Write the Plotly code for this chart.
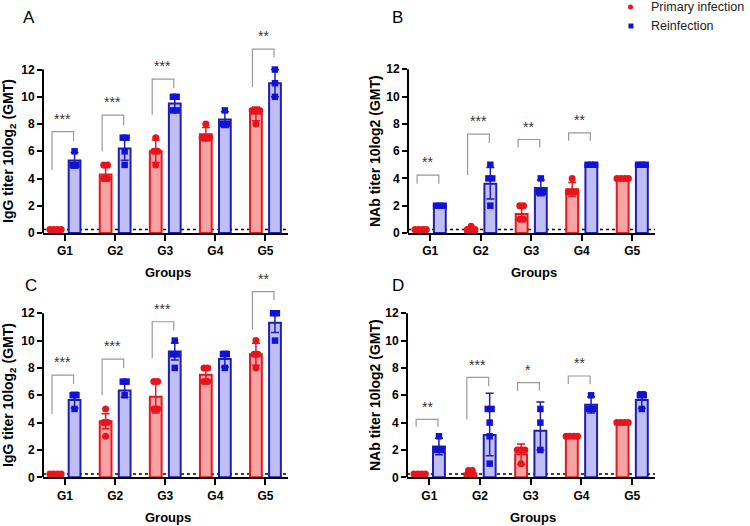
import plotly.graph_objects as go

groups = ["G1", "G2", "G3", "G4", "G5"]
LOD = 0.25

# ---------- Panel A : IgG (primary vs reinfection) ----------
A_pri_mean = [0.25, 4.3, 6.0, 7.25, 8.75]
A_pri_hi = [0.0, 0.5, 0.82, 0.5, 0.5]
A_pri_lo = [0.0, 0.5, 0.82, 0.5, 0.5]
A_pri_pts = [[0.25, 0.25, 0.25, 0.25], [5, 5, 4, 4], [7, 6, 6, 5], [8, 7, 7, 7], [9, 9, 9, 8]]
A_re_mean = [5.33, 6.2, 9.5, 8.33, 11.0]
A_re_hi = [0.58, 0.85, 0.58, 0.58, 1.0]
A_re_lo = [0.58, 0.85, 0.58, 0.58, 1.0]
A_re_pts = [[6, 5, 5], [7, 7, 6, 5], [10, 10, 9, 9], [9, 8, 8], [12, 11, 10]]
A_sig = ["***", "***", "***", "", "**"]
A_brk_left = [4.65, 6.0, 8.7, 0, 10.7]
A_brk_top = [7.45, 8.65, 11.3, 0, 13.5]
A_brk_right = [6.75, 7.9, 10.65, 0, 12.9]

# ---------- Panel B : NAb ----------
B_pri_mean = [0.25, 0.3, 1.4, 3.2, 4.0]
B_pri_hi = [0.0, 0.1, 0.5, 0.5, 0.0]
B_pri_lo = [0.0, 0.1, 0.5, 0.5, 0.0]
B_pri_pts = [[0.25, 0.25, 0.25, 0.25], [0.5, 0.25, 0.25, 0.25], [2, 2, 1, 1], [4, 3, 3, 3], [4, 4, 4, 4]]
B_re_mean = [2.0, 3.6, 3.3, 5.0, 5.0]
B_re_hi = [0.0, 1.2, 0.58, 0.0, 0.0]
B_re_lo = [0.0, 1.1, 0.58, 0.0, 0.0]
B_re_pts = [[2, 2, 2], [5, 4, 4, 2], [4, 3, 3], [5, 5, 5], [5, 5, 5]]
B_sig = ["**", "***", "**", "**", ""]
B_brk_left = [3.6, 4.25, 6.27, 6.75, 0]
B_brk_top = [4.24, 7.24, 6.85, 7.34, 0]
B_brk_right = [3.6, 6.6, 6.27, 6.75, 0]

# ---------- Panel C : IgG ----------
C_pri_mean = [0.25, 4.1, 5.9, 7.5, 9.0]
C_pri_hi = [0.0, 0.55, 1.2, 0.55, 0.8]
C_pri_lo = [0.0, 0.55, 1.2, 0.55, 0.8]
C_pri_pts = [[0.25, 0.25, 0.25, 0.25], [5, 4, 4, 3], [7, 7, 5, 5], [8, 8, 7, 7], [10, 9, 9, 8]]
C_re_mean = [5.65, 6.35, 9.2, 8.65, 11.3]
C_re_hi = [0.58, 0.5, 0.62, 0.58, 0.7]
C_re_lo = [0.58, 0.5, 0.62, 0.58, 0.7]
C_re_pts = [[6, 6, 5], [7, 7, 6], [10, 9, 9, 8], [9, 9, 8], [12, 12, 10]]
C_sig = ["***", "***", "***", "", "**"]
C_brk_left = [4.63, 6.02, 8.7, 0, 10.82]
C_brk_top = [7.48, 8.65, 11.38, 0, 13.58]
C_brk_right = [6.83, 7.97, 10.73, 0, 12.97]

# ---------- Panel D : NAb ----------
D_pri_mean = [0.25, 0.3, 1.68, 3.0, 4.0]
D_pri_hi = [0.0, 0.1, 0.75, 0.0, 0.0]
D_pri_lo = [0.0, 0.1, 0.75, 0.0, 0.0]
D_pri_pts = [[0.25, 0.25, 0.25, 0.25], [0.5, 0.5, 0.25, 0.25], [2, 2, 2, 1], [3, 3, 3, 3], [4, 4, 4, 4]]
D_re_mean = [2.25, 3.1, 3.4, 5.3, 5.65]
D_re_hi = [0.6, 3.04, 2.1, 0.6, 0.6]
D_re_lo = [0.6, 1.52, 1.4, 0.6, 0.6]
D_re_pts = [[3, 2, 2], [5, 5, 4, 3, 1], [5, 4, 2], [6, 5, 5], [6, 6, 5]]
D_sig = ["**", "***", "*", "**", ""]
D_brk_left = [3.7, 4.24, 6.34, 6.83, 0]
D_brk_top = [4.24, 7.31, 6.92, 7.41, 0]
D_brk_right = [3.7, 6.68, 6.34, 6.83, 0]

IGG_TITLE = "IgG titer 10log<sub>2</sub> (GMT)"
NAB_TITLE = "NAb titer 10log2 (GMT)"

# ---------- styling ----------
W, H = 750, 526
FONT = "Liberation Sans, Arial, sans-serif"
RED_LINE = "#e3191e"
RED_FILL = "#f7a3a4"
RED_MK = "#e8141b"
BLUE_LINE = "#1f1fae"
BLUE_FILL = "#bfbff6"
BLUE_MK = "#1212d6"
OFF = 0.19
BW = 0.235

panels = [
    dict(name="A", pri=(A_pri_mean, A_pri_hi, A_pri_lo, A_pri_pts), re=(A_re_mean, A_re_hi, A_re_lo, A_re_pts),
         sig=(A_sig, A_brk_left, A_brk_top, A_brk_right), title=IGG_TITLE,
         px=(43, 288), py0=233, scale=13.62, letter=(29, 18), ytitle=(9, 151), xtitle_y=272),
    dict(name="B", pri=(B_pri_mean, B_pri_hi, B_pri_lo, B_pri_pts), re=(B_re_mean, B_re_hi, B_re_lo, B_re_pts),
         sig=(B_sig, B_brk_left, B_brk_top, B_brk_right), title=NAB_TITLE,
         px=(408, 655), py0=233, scale=13.65, letter=(398, 18), ytitle=(375, 151), xtitle_y=272),
    dict(name="C", pri=(C_pri_mean, C_pri_hi, C_pri_lo, C_pri_pts), re=(C_re_mean, C_re_hi, C_re_lo, C_re_pts),
         sig=(C_sig, C_brk_left, C_brk_top, C_brk_right), title=IGG_TITLE,
         px=(43, 288), py0=477.3, scale=13.67, letter=(31, 285), ytitle=(9, 395), xtitle_y=517),
    dict(name="D", pri=(D_pri_mean, D_pri_hi, D_pri_lo, D_pri_pts), re=(D_re_mean, D_re_hi, D_re_lo, D_re_pts),
         sig=(D_sig, D_brk_left, D_brk_top, D_brk_right), title=NAB_TITLE,
         px=(407, 655), py0=477.3, scale=13.67, letter=(398, 285), ytitle=(375, 395), xtitle_y=517),
]

YMAX = 15.0
XR = [-0.44, 4.45]


def spread(vals, step=0.075):
    """place equal values side by side (GraphPad-like scatter)"""
    out = []
    counts = {}
    for v in vals:
        counts[v] = counts.get(v, 0) + 1
    seen = {}
    for v in vals:
        k = counts[v]
        j = seen.get(v, 0)
        seen[v] = j + 1
        out.append((j - (k - 1) / 2) * step)
    return out


fig = go.Figure()
layout = dict(width=W, height=H, margin=dict(l=0, r=0, t=0, b=0, autoexpand=False),
              paper_bgcolor="white", plot_bgcolor="white", showlegend=False,
              font=dict(family=FONT, color="black"))
shapes = []
annotations = []

for n, p in enumerate(panels, start=1):
    xa = "x" if n == 1 else f"x{n}"
    ya = "y" if n == 1 else f"y{n}"
    xl, xr = p["px"]
    y0 = p["py0"]
    ytop = y0 - YMAX * p["scale"]
    layout[f"xaxis{'' if n == 1 else n}"] = dict(
        domain=[xl / W, xr / W], range=XR, anchor=ya,
        tickvals=list(range(5)), ticktext=groups, ticks="outside", ticklen=6, tickwidth=2,
        tickcolor="black", showline=True, linewidth=2, linecolor="black",
        showgrid=False, zeroline=False, automargin=False,
        tickfont=dict(family=FONT, size=12, color="black", weight="bold"))
    layout[f"yaxis{'' if n == 1 else n}"] = dict(
        domain=[1 - y0 / H, 1 - ytop / H], range=[0, YMAX], anchor=xa,
        tickvals=list(range(0, 13, 2)), ticks="outside", ticklen=5, tickwidth=2,
        tickcolor="black", showline=False, showgrid=False, zeroline=False, automargin=False,
        tickfont=dict(family=FONT, size=12, color="black", weight="bold"))

    xs = list(range(5))
    series = [
        (p["pri"], -OFF, RED_LINE, RED_FILL, RED_MK, "circle"),
        (p["re"], OFF, BLUE_LINE, BLUE_FILL, BLUE_MK, "square"),
    ]
    # bars with error bars
    for (mean, hi, lo, pts), off, lc, fc, mc, sym in series:
        fig.add_trace(go.Bar(
            x=[i + off for i in xs], y=mean, width=BW, xaxis=xa, yaxis=ya,
            marker=dict(color=fc, line=dict(color=lc, width=2)),
            error_y=dict(type="data", array=hi, arrayminus=lo, symmetric=False,
                         color=lc, thickness=1.5, width=4)))
    # individual points
    for (mean, hi, lo, pts), off, lc, fc, mc, sym in series:
        px_, py_ = [], []
        for i, vals in enumerate(pts):
            for dx, v in zip(spread(vals), vals):
                px_.append(i + off + dx)
                py_.append(v)
        fig.add_trace(go.Scatter(
            x=px_, y=py_, mode="markers", xaxis=xa, yaxis=ya, cliponaxis=False,
            marker=dict(symbol=sym, size=7 if sym == "circle" else 6.5, color=mc, line=dict(width=0))))

    # LOD dotted line
    shapes.append(dict(type="line", xref=f"{xa} domain", yref=ya, x0=0, x1=1, y0=LOD, y1=LOD,
                       line=dict(color="black", width=1.5, dash="dot"), layer="below"))
    # y axis line 0..12
    shapes.append(dict(type="line", xref=f"{xa} domain", yref=ya, x0=0, x1=0, y0=0, y1=12,
                       line=dict(color="black", width=2)))

    # significance brackets
    sig, bl, bt, br = p["sig"]
    for i, s in enumerate(sig):
        if not s:
            continue
        xL, xR = i - 0.26, i + 0.17
        shapes.append(dict(type="path", xref=xa, yref=ya,
                           path=f"M {xL},{bl[i]} L {xL},{bt[i]} L {xR},{bt[i]} L {xR},{br[i]}",
                           line=dict(color="#9a9a9a", width=1.2)))
        annotations.append(dict(xref=xa, yref=ya, x=(xL + xR) / 2, y=bt[i] + 0.2, text=s,
                                showarrow=False, yanchor="bottom",
                                font=dict(family=FONT, size=14, color="#333")))

    # panel letter
    lx, ly = p["letter"]
    annotations.append(dict(xref="paper", yref="paper", x=lx / W, y=1 - ly / H, text=p["name"],
                            showarrow=False, xanchor="center", yanchor="middle",
                            font=dict(family=FONT, size=17, color="black")))
    # y title
    tx, ty = p["ytitle"]
    annotations.append(dict(xref="paper", yref="paper", x=tx / W, y=1 - ty / H, text=p["title"],
                            textangle=-90, showarrow=False, xanchor="center", yanchor="middle",
                            font=dict(family=FONT, size=14, color="black", weight="bold")))
    # x title
    annotations.append(dict(xref="paper", yref="paper", x=((xl + xr) / 2 + 2) / W, y=1 - p["xtitle_y"] / H,
                            text="Groups", showarrow=False, xanchor="center", yanchor="middle",
                            font=dict(family=FONT, size=13, color="black", weight="bold")))

# legend (manual)
shapes.append(dict(type="circle", xref="paper", yref="paper",
                   x0=628 / W, x1=633 / W, y0=1 - 9.5 / H, y1=1 - 4.5 / H,
                   fillcolor=RED_MK, line=dict(width=0)))
shapes.append(dict(type="rect", xref="paper", yref="paper",
                   x0=628.5 / W, x1=633.5 / W, y0=1 - 28.5 / H, y1=1 - 23.5 / H,
                   fillcolor=BLUE_MK, line=dict(width=0)))
annotations.append(dict(xref="paper", yref="paper", x=649 / W, y=1 - 7 / H, text="Primary infection",
                        showarrow=False, xanchor="left", yanchor="middle",
                        font=dict(family=FONT, size=12.5, color="#222")))
annotations.append(dict(xref="paper", yref="paper", x=649 / W, y=1 - 26 / H, text="Reinfection",
                        showarrow=False, xanchor="left", yanchor="middle",
                        font=dict(family=FONT, size=12.5, color="#222")))

layout["shapes"] = shapes
layout["annotations"] = annotations
layout["barmode"] = "overlay"
fig.update_layout(**layout)
fig.write_html("out.html", config={"displayModeBar": False, "staticPlot": True},
               post_script="document.body.style.margin='0px';document.body.style.overflow='hidden';")
